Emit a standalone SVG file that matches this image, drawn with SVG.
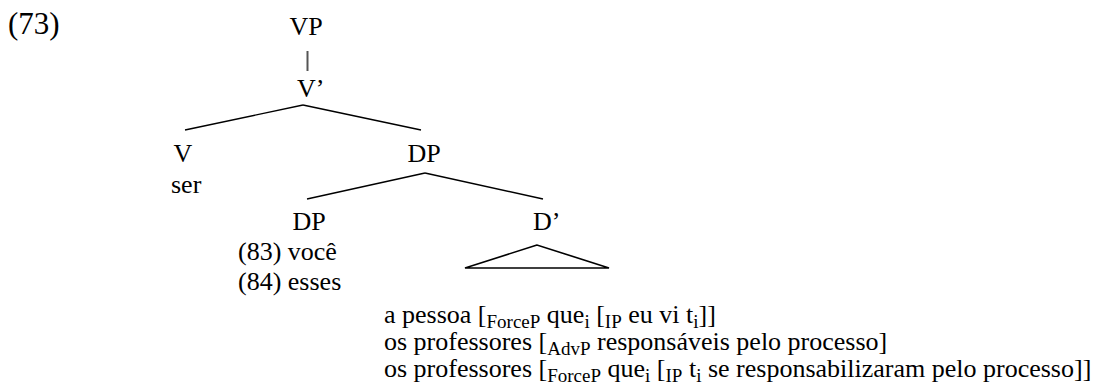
<svg xmlns="http://www.w3.org/2000/svg" width="1099" height="387" viewBox="0 0 1099 387">
<style>
text { font-family: "Liberation Serif", "Times New Roman", Tinos, "DejaVu Serif", serif; font-size: 26px; fill: #000; }
.sub { font-size: 19px; }
.edge { stroke: #000; stroke-width: 1.4; fill: none; }
.unary { stroke: #555; stroke-width: 2; }
.tri { stroke: #000; stroke-width: 1.6; fill: none; stroke-linejoin: miter; }
</style>
<rect width="1099" height="387" fill="#fff"/>
<text id="ex-num" x="8" y="34" style="font-size:31px">(73)</text>
<g id="connectors">
  <line class="edge unary" x1="307.5" y1="51" x2="307.5" y2="71"/>
  <line class="edge" x1="303" y1="105" x2="185" y2="130"/>
  <line class="edge" x1="303" y1="105" x2="421" y2="130"/>
  <line class="edge" x1="425" y1="173" x2="307" y2="199"/>
  <line class="edge" x1="425" y1="173" x2="543" y2="199"/>
</g>
<g id="node-VP"><text x="306" y="35" text-anchor="middle">VP</text></g>
<g id="node-Vbar"><text x="297" y="97">V’</text></g>
<g id="node-V"><text x="183" y="162" text-anchor="middle">V</text><text x="171" y="193">ser</text></g>
<g id="node-DP-top"><text x="424" y="162" text-anchor="middle">DP</text></g>
<g id="node-DP-spec"><text x="309" y="230" text-anchor="middle">DP</text><text x="238" y="260">(83) você</text><text x="238" y="290">(84) esses</text></g>
<g id="node-Dbar"><text x="533" y="230">D’</text></g>
<g id="node-triangle"><polygon class="tri" points="537,245 465,268 609,268"/></g>
<g id="yield">
  <text x="384" y="323">a pessoa [<tspan class="sub" dy="5">ForceP</tspan><tspan dy="-5"> que</tspan><tspan class="sub" dy="5">i</tspan><tspan dy="-5"> [</tspan><tspan class="sub" dy="5">IP</tspan><tspan dy="-5"> eu vi t</tspan><tspan class="sub" dy="5">i</tspan><tspan dy="-5">]]</tspan></text>
  <text x="384" y="350">os professores [<tspan class="sub" dy="5">AdvP</tspan><tspan dy="-5"> responsáveis pelo processo]</tspan></text>
  <text x="384" y="377">os professores [<tspan class="sub" dy="5">ForceP</tspan><tspan dy="-5"> que</tspan><tspan class="sub" dy="5">i</tspan><tspan dy="-5"> [</tspan><tspan class="sub" dy="5">IP</tspan><tspan dy="-5"> t</tspan><tspan class="sub" dy="5">i</tspan><tspan dy="-5"> se responsabilizaram pelo processo]]</tspan></text>
</g>
</svg>
